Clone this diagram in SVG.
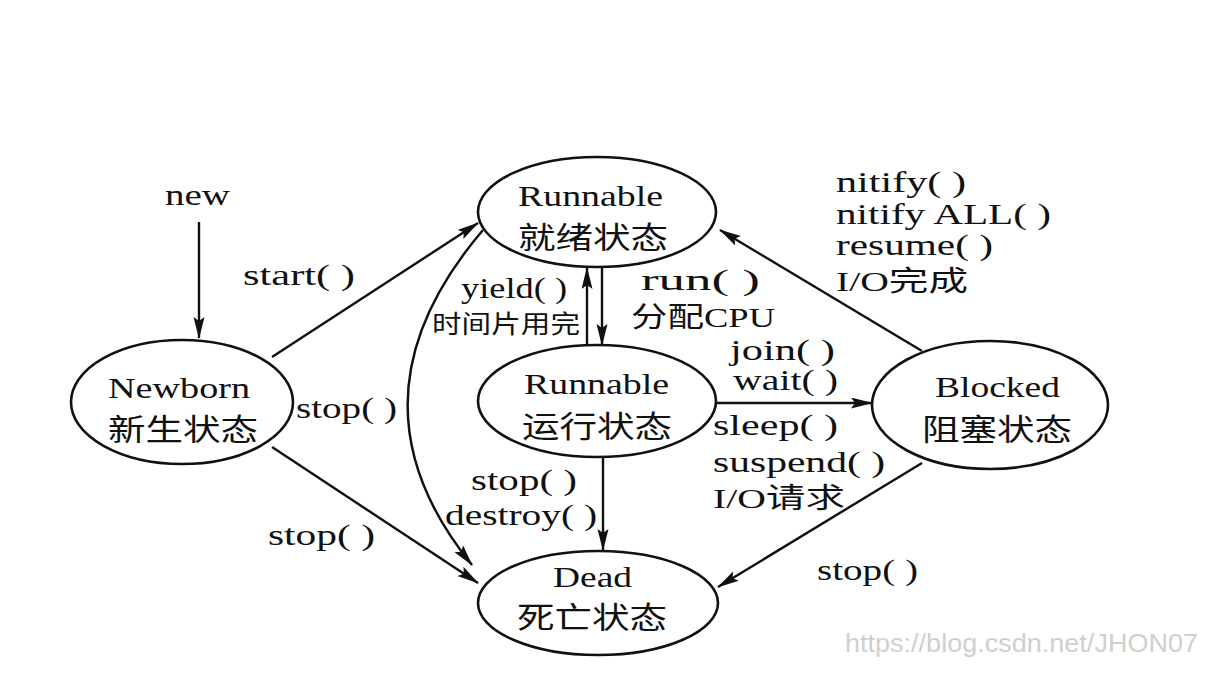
<svg xmlns="http://www.w3.org/2000/svg" width="1206" height="695" viewBox="0 0 1206 695">
<style>
.node ellipse{fill:#fff;stroke:#111;stroke-width:2.6}
.t{font-family:"Liberation Serif","Noto Serif CJK SC","Noto Sans CJK SC",serif;fill:#111}
.en{font-size:29px}
.zh{font-family:"Noto Sans CJK SC",sans-serif;font-size:30px;fill:#111}
.lb{font-family:"Liberation Serif",serif;font-size:29px;fill:#111}
.lz{font-family:"Liberation Serif","Noto Sans CJK SC",sans-serif;font-size:28px;fill:#111}
.edge{fill:none;stroke:#111;stroke-width:2.4}
.wm{font-family:"Liberation Sans",sans-serif;font-size:25px;fill:#cfcfcf}
</style>
<defs>
<marker id="ah" markerUnits="userSpaceOnUse" markerWidth="22" markerHeight="12" refX="21" refY="5.5" orient="auto">
<path d="M0,0 L22,5.5 L0,11 L4,5.5 z" fill="#111"/>
</marker>
</defs>
<rect width="1206" height="695" fill="#fff"/>
<g id="connectors">
<line class="edge" x1="199" y1="222" x2="199" y2="338" marker-end="url(#ah)"/>
<line class="edge" x1="272" y1="357" x2="478" y2="223" marker-end="url(#ah)"/>
<line class="edge" x1="272" y1="447" x2="478" y2="583" marker-end="url(#ah)"/>
<path class="edge" d="M483 230 Q338 400 472 565" marker-end="url(#ah)"/>
<line class="edge" x1="587" y1="346" x2="587" y2="268" marker-end="url(#ah)"/>
<line class="edge" x1="602" y1="267" x2="602" y2="345" marker-end="url(#ah)"/>
<line class="edge" x1="603" y1="458" x2="603" y2="550" marker-end="url(#ah)"/>
<line class="edge" x1="715" y1="403" x2="872" y2="403" marker-end="url(#ah)"/>
<line class="edge" x1="922" y1="351" x2="720" y2="230" marker-end="url(#ah)"/>
<line class="edge" x1="922" y1="463" x2="718" y2="587" marker-end="url(#ah)"/>
</g>
<g id="labels">
<text class="lb" x="165" y="205" textLength="65" lengthAdjust="spacingAndGlyphs">new</text>
<text class="lb" x="243" y="285" textLength="112" lengthAdjust="spacingAndGlyphs">start( )</text>
<text class="lb" x="296" y="418" textLength="101" lengthAdjust="spacingAndGlyphs">stop( )</text>
<text class="lb" x="268" y="545" textLength="107" lengthAdjust="spacingAndGlyphs">stop( )</text>
<text class="lb" x="461" y="298" textLength="106" lengthAdjust="spacingAndGlyphs">yield( )</text>
<text class="lz" x="432" y="333" style="font-size:25px" textLength="148" lengthAdjust="spacingAndGlyphs">时间片用完</text>
<text class="lb" x="641" y="290" textLength="119" lengthAdjust="spacingAndGlyphs">run( )</text>
<text class="lz" x="631" y="327" textLength="144" lengthAdjust="spacingAndGlyphs">分配CPU</text>
<text class="lb" x="730" y="360" textLength="105" lengthAdjust="spacingAndGlyphs">join( )</text>
<text class="lb" x="733" y="390" textLength="105" lengthAdjust="spacingAndGlyphs">wait( )</text>
<text class="lb" x="713" y="435" textLength="125" lengthAdjust="spacingAndGlyphs">sleep( )</text>
<text class="lb" x="713" y="472" textLength="172" lengthAdjust="spacingAndGlyphs">suspend( )</text>
<text class="lz" x="713" y="508" textLength="132" lengthAdjust="spacingAndGlyphs">I/O请求</text>
<text class="lb" x="471" y="490" textLength="106" lengthAdjust="spacingAndGlyphs">stop( )</text>
<text class="lb" x="445" y="525" textLength="152" lengthAdjust="spacingAndGlyphs">destroy( )</text>
<text class="lb" x="817" y="580" textLength="101" lengthAdjust="spacingAndGlyphs">stop( )</text>
<text class="lb" x="836" y="192" textLength="130" lengthAdjust="spacingAndGlyphs">nitify( )</text>
<text class="lb" x="836" y="224" textLength="215" lengthAdjust="spacingAndGlyphs">nitify ALL( )</text>
<text class="lb" x="836" y="255" textLength="157" lengthAdjust="spacingAndGlyphs">resume( )</text>
<text class="lz" x="836" y="291" textLength="132" lengthAdjust="spacingAndGlyphs">I/O完成</text>
</g>
<g id="newborn" class="node">
<ellipse cx="182" cy="402" rx="111" ry="62"/>
<text class="t en" x="108" y="398" textLength="142" lengthAdjust="spacingAndGlyphs">Newborn</text>
<text class="zh" x="108" y="440" textLength="150" lengthAdjust="spacingAndGlyphs">新生状态</text>
</g>
<g id="ready" class="node">
<ellipse cx="597" cy="212" rx="119" ry="55"/>
<text class="t en" x="518" y="206" textLength="145" lengthAdjust="spacingAndGlyphs">Runnable</text>
<text class="zh" x="518" y="248" textLength="150" lengthAdjust="spacingAndGlyphs">就绪状态</text>
</g>
<g id="running" class="node">
<ellipse cx="597" cy="401" rx="119" ry="56"/>
<text class="t en" x="524" y="394" textLength="145" lengthAdjust="spacingAndGlyphs">Runnable</text>
<text class="zh" x="522" y="437" textLength="150" lengthAdjust="spacingAndGlyphs">运行状态</text>
</g>
<g id="blocked" class="node">
<ellipse cx="990" cy="405" rx="118" ry="64"/>
<text class="t en" x="935" y="397" textLength="125" lengthAdjust="spacingAndGlyphs">Blocked</text>
<text class="zh" x="922" y="440" textLength="150" lengthAdjust="spacingAndGlyphs">阻塞状态</text>
</g>
<g id="dead" class="node">
<ellipse cx="598" cy="603" rx="120" ry="52"/>
<text class="t en" x="553" y="587" textLength="79" lengthAdjust="spacingAndGlyphs">Dead</text>
<text class="zh" x="517" y="628" textLength="150" lengthAdjust="spacingAndGlyphs">死亡状态</text>
</g>
<text class="wm" x="845" y="652" textLength="353" lengthAdjust="spacingAndGlyphs">https://blog.csdn.net/JHON07</text>
</svg>
